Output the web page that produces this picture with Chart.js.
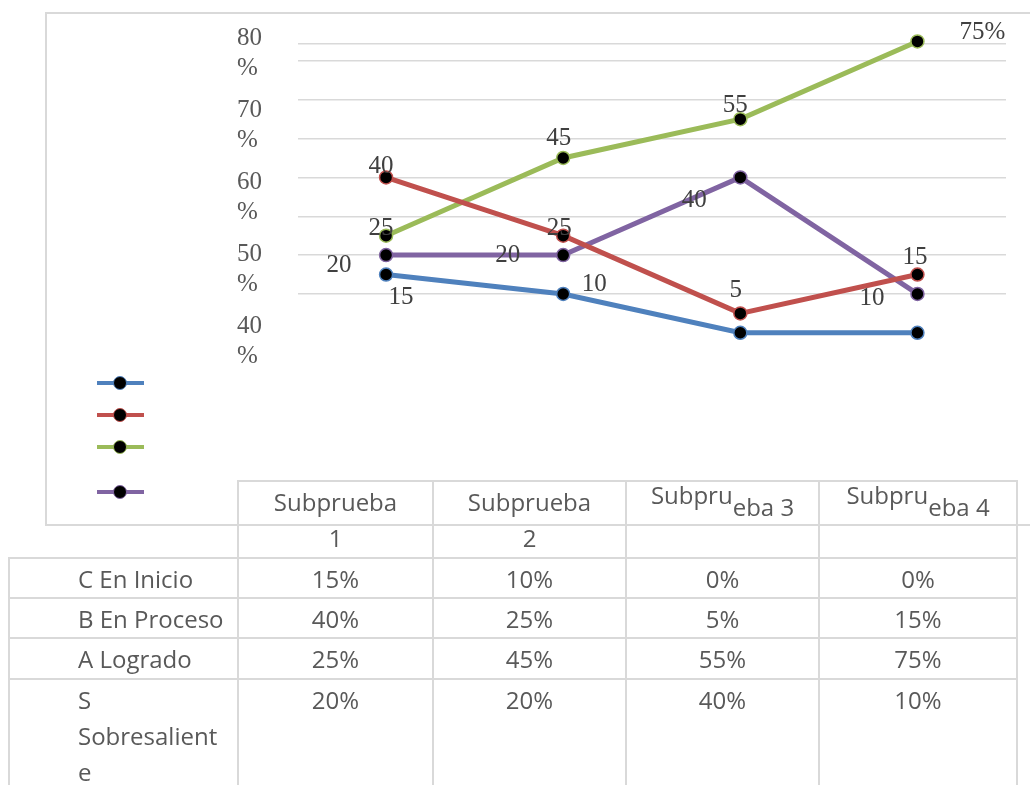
<!DOCTYPE html>
<html>
<head>
<meta charset="utf-8">
<script src="https://cdn.jsdelivr.net/npm/chart.js@4/dist/chart.umd.min.js"></script>
<style>
    body { margin: 0; width: 1030px; height: 785px; overflow: hidden; background: #fff; position: relative; }
    #frame { position: absolute; left: 45px; top: 12px; width: 1100px; height: 510px; border: 2px solid #d9d9d9; }
    #chartBox { position: absolute; left: 0; top: 0; width: 1030px; height: 480px; }
    .legLine { position: absolute; width: 47px; height: 4px; }
    .legDot { position: absolute; width: 14px; height: 14px; border-radius: 50%; background: #000; box-sizing: border-box; border: 1.5px solid; }
    #dataTable { position: absolute; left: 8px; top: 480px; border-collapse: collapse; table-layout: fixed; width: 1008px;
        font-family: "Open Sans", sans-serif; font-size: 24px; color: #595959; }
    #dataTable td { border: 2px solid #d9d9d9; padding: 2px 0 0 0; line-height: 36px; vertical-align: top; text-align: center; }
    #dataTable td.rowLabel { text-align: left; padding-left: 68px; padding-right: 12px; overflow-wrap: anywhere; }
    #dataTable td.blank { border: none; }
    #dataTable tr.h2 td { line-height: 24px; padding: 0; }
    .up { position: relative; top: -7px; }
    .down { position: relative; top: 5px; }
</style>
</head>
<body>
<div id="frame"></div>
<div id="chartBox"><canvas id="lineChart"></canvas></div>
<div id="legend"></div>
<table id="dataTable">
    <colgroup><col style="width:229px"><col style="width:195px"><col style="width:193px"><col style="width:193px"><col style="width:198px"></colgroup>
    <tbody id="tableBody"></tbody>
</table>
<script>
// datos
const categories = ['Subprueba 1', 'Subprueba 2', 'Subprueba 3', 'Subprueba 4'];
const seriesNames = ['C En Inicio', 'B En Proceso', 'A Logrado', 'S Sobresaliente'];
const enInicio = [15, 10, 0, 0];
const enProceso = [40, 25, 5, 15];
const logrado = [25, 45, 55, 75];
const sobresaliente = [20, 20, 40, 10];
const yTickLabels = [80, 70, 60, 50, 40];
const gridValues = [10, 20, 30, 40, 50, 60, 70, 74.5];

const colors = ['#4F81BD', '#C0504D', '#9BBB59', '#8064A2'];

// where each value label sits relative to its point [dx, dy, suffix]
const labelPos = [
    [[15, 23], [31, -10], null, null],
    [[-5, -11], [-4, -7], [-4.5, -23], [-2.5, -17]],
    [[-5, -7], [-4.5, -20], [-5, -14], [65, -8.5, '%']],
    [[-47, 10], [-55.5, 0], [-46, 23], [-45.5, 4.5]]
];

const allSeries = [enInicio, enProceso, logrado, sobresaliente];

const datasets = allSeries.map(function (values, i) {
    return {
        label: seriesNames[i],
        data: values,
        borderColor: colors[i],
        backgroundColor: colors[i],
        borderWidth: 5,
        pointRadius: 6.5,
        pointBorderWidth: 1.5,
        pointBackgroundColor: '#000',
        pointBorderColor: colors[i],
        tension: 0
    };
});

// value labels plugin
const valueLabels = {
    id: 'valueLabels',
    afterDatasetsDraw(chart) {
        const ctx = chart.ctx;
        ctx.save();
        ctx.font = '25px "Liberation Serif", "DejaVu Serif", serif';
        ctx.fillStyle = '#404040';
        ctx.textAlign = 'center';
        ctx.textBaseline = 'middle';
        chart.data.datasets.forEach(function (ds, di) {
            const meta = chart.getDatasetMeta(di);
            meta.data.forEach(function (pt, i) {
                const pos = labelPos[di][i];
                if (!pos) return;
                ctx.fillText(ds.data[i] + (pos[2] || ''), pt.x + pos[0], pt.y + pos[1]);
            });
        });
        ctx.restore();
    }
};

const ctx = document.getElementById('lineChart').getContext('2d');
const chart = new Chart(ctx, {
    type: 'line',
    data: { labels: categories, datasets: datasets },
    plugins: [valueLabels],
    options: {
        responsive: true,
        maintainAspectRatio: false,
        animation: false,
        layout: { padding: { left: 237, right: 24, top: 22, bottom: 120 } },
        plugins: { legend: { display: false }, tooltip: { enabled: false } },
        scales: {
            x: { display: false, offset: true },
            y: {
                position: 'left',
                weight: 0,
                min: -7,
                max: 80,
                afterBuildTicks: function (scale) {
                    scale.ticks = gridValues.map(function (v) { return { value: v }; });
                },
                afterFit: function (scale) { scale.width = 0; scale.paddingTop = 0; scale.paddingBottom = 0; },
                ticks: { display: false },
                border: { display: false },
                grid: { color: '#d9d9d9', lineWidth: 1.5, drawTicks: false }
            },
            yTxt: {
                position: 'left',
                weight: 1,
                min: 37.36,
                max: 84.3,
                afterBuildTicks: function (scale) {
                    scale.ticks = yTickLabels.map(function (v) { return { value: v }; });
                },
                afterFit: function (scale) { scale.width = 60.5; scale.paddingTop = 0; scale.paddingBottom = 0; },
                ticks: {
                    crossAlign: 'far',
                    color: '#595959',
                    font: { family: '"Liberation Serif", "DejaVu Serif", serif', size: 25, lineHeight: 1.2 },
                    callback: function (v) { return [String(v), '%']; }
                },
                border: { display: false },
                grid: { display: false }
            }
        }
    }
});

// legend (markers only)
const legendTops = [383, 415, 447, 492];
const legend = document.getElementById('legend');
chart.data.datasets.forEach(function (ds, i) {
    const line = document.createElement('div');
    line.className = 'legLine';
    line.style.left = '97px';
    line.style.top = (legendTops[i] - 2) + 'px';
    line.style.background = ds.borderColor;
    const dot = document.createElement('div');
    dot.className = 'legDot';
    dot.style.left = '113px';
    dot.style.top = (legendTops[i] - 7) + 'px';
    dot.style.borderColor = ds.borderColor;
    legend.appendChild(line);
    legend.appendChild(dot);
});

// data table
const tbody = document.getElementById('tableBody');
let h1 = '<tr style="height:44px"><td class="blank"></td>';
let h2 = '<tr class="h2" style="height:33px"><td class="blank"></td>';
categories.forEach(function (c, i) {
    const parts = c.split(' ');
    if (i < 2) {
        h1 += '<td>' + parts[0] + '</td>';
        h2 += '<td>' + parts[1] + '</td>';
    } else {
        h1 += '<td><span class="up">' + parts[0].slice(0, 6) + '</span><span class="down">' + parts[0].slice(6) + ' ' + parts[1] + '</span></td>';
        h2 += '<td></td>';
    }
});
let rows = h1 + '</tr>' + h2 + '</tr>';
const rowHeights = [40, 40, 41, 140];
allSeries.forEach(function (values, i) {
    rows += '<tr style="height:' + rowHeights[i] + 'px"><td class="rowLabel">' + seriesNames[i] + '</td>';
    values.forEach(function (v) { rows += '<td>' + v + '%</td>'; });
    rows += '</tr>';
});
tbody.innerHTML = rows;
</script>
</body>
</html>
